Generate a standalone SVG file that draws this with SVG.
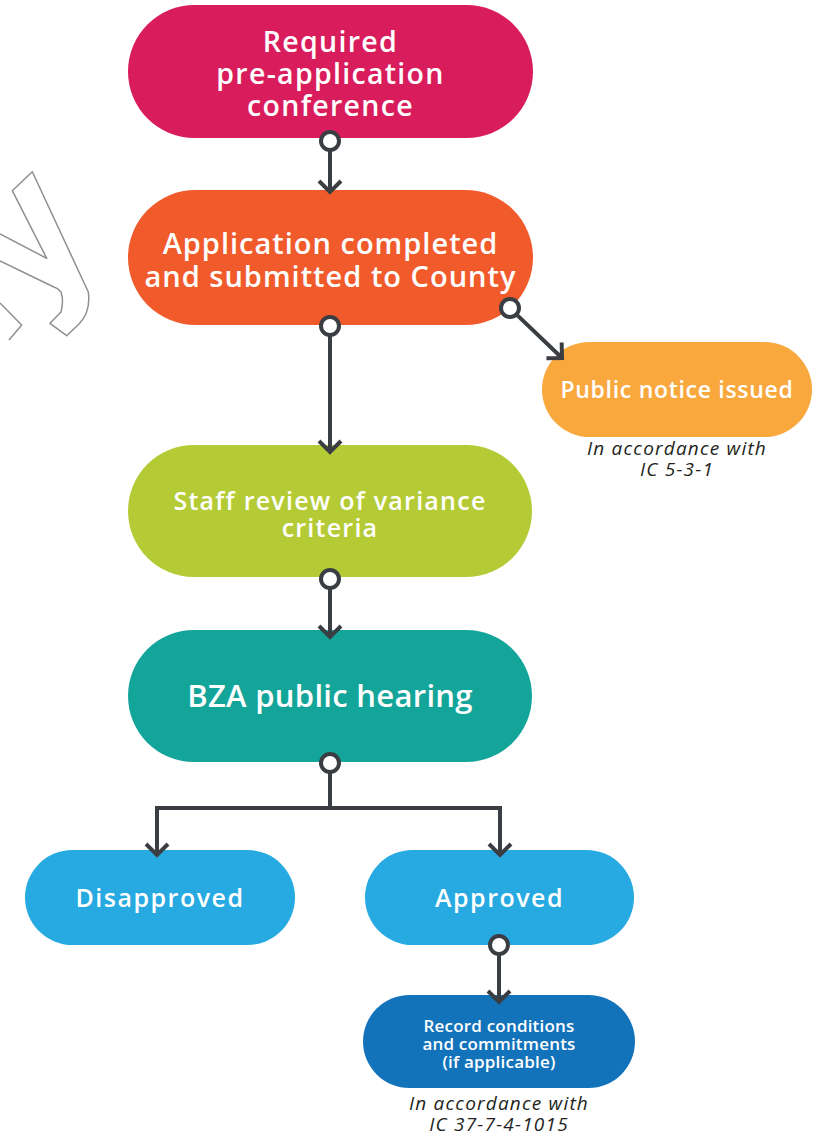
<svg xmlns="http://www.w3.org/2000/svg" width="820" height="1135" viewBox="0 0 820 1135">
  <style>
    .pill-text { font-family: "Open Sans", "Liberation Sans", sans-serif; font-weight: 600; fill: #ffffff; text-anchor: middle; }
    .note { font-family: "Open Sans", "Liberation Sans", sans-serif; font-style: italic; font-size: 19px; letter-spacing: 1.2px; fill: #231f20; text-anchor: middle; }
    .wire { fill: none; stroke: #3a3e42; stroke-width: 4; }
    .joint { fill: #ffffff; stroke: #3a3e42; stroke-width: 4; }
    .outline { fill: none; stroke: #8f8f8f; stroke-width: 1.5; stroke-linejoin: round; }
  </style>
  <defs>
    <marker id="chevron" markerUnits="userSpaceOnUse" markerWidth="1" markerHeight="1" refX="0" refY="0" orient="auto" overflow="visible">
      <path d="M-11,-11 L0,0 L-11,11" fill="none" stroke="#3a3e42" stroke-width="4"/>
    </marker>
  </defs>

  <rect width="820" height="1135" fill="#ffffff"/>

  <!-- partial outlined letterform at the left edge -->
  <g id="outline-mark">
    <path class="outline" d="M0,234 L46.7,258.3 L12.3,190.7 L32.3,171.7 Q62,235 88.3,292 Q91,312 79,324 L66.7,335.7 L50,323.3 L61,312 Q64,300 61,292 Q58,288 53.3,286.7 L0,261"/>
    <path class="outline" d="M0,303 L21.7,325 L9,340"/>
  </g>

  <g id="pre-application">
    <rect x="128" y="5" width="405" height="133" rx="66.5" fill="#d91c5c"/>
    <text class="pill-text" font-size="28.5" letter-spacing="1.3" x="330.5" y="52">Required<tspan x="330.5" dy="32">pre-application</tspan><tspan x="330.5" dy="32">conference</tspan></text>
  </g>

  <g id="application">
    <rect x="128" y="190" width="405" height="135" rx="67.5" fill="#f15a2b"/>
    <text class="pill-text" font-size="29" letter-spacing="1" x="330.5" y="254">Application completed<tspan x="330.5" dy="33">and submitted to County</tspan></text>
  </g>

  <g id="public-notice">
    <rect x="542" y="342" width="270" height="95" rx="47.5" fill="#f9a83e"/>
    <text class="pill-text" font-size="23" letter-spacing="0.7" x="677" y="398">Public notice issued</text>
    <text class="note" x="677" y="455">In accordance with<tspan x="677" dy="21">IC 5-3-1</tspan></text>
  </g>

  <g id="staff-review">
    <rect x="128" y="445" width="404" height="132" rx="66" fill="#b4cb36"/>
    <text class="pill-text" font-size="25" letter-spacing="1.25" x="330" y="510">Staff review of variance<tspan x="330" dy="27">criteria</tspan></text>
  </g>

  <g id="bza-hearing">
    <rect x="128" y="630" width="404" height="132" rx="66" fill="#14a59a"/>
    <text class="pill-text" font-size="31" letter-spacing="0.3" x="330" y="707">BZA public hearing</text>
  </g>

  <g id="disapproved">
    <rect x="25" y="850" width="270" height="95" rx="47.5" fill="#27a9e1"/>
    <text class="pill-text" font-size="25" letter-spacing="1.5" x="160" y="907">Disapproved</text>
  </g>

  <g id="approved">
    <rect x="365" y="850" width="269" height="95" rx="47.5" fill="#27a9e1"/>
    <text class="pill-text" font-size="25" letter-spacing="1.5" x="499.5" y="907">Approved</text>
  </g>

  <g id="record-conditions">
    <rect x="363" y="995" width="272" height="93" rx="46.5" fill="#1373ba"/>
    <text class="pill-text" font-size="17" letter-spacing="0.2" x="499" y="1032">Record conditions<tspan x="499" dy="18">and commitments</tspan><tspan x="499" dy="18">(if applicable)</tspan></text>
    <text class="note" x="499" y="1110">In accordance with<tspan x="499" dy="21">IC 37-7-4-1015</tspan></text>
  </g>

  <!-- connectors, drawn over the node edges -->
  <g id="connectors">
    <path class="wire" d="M330,150 V192" marker-end="url(#chevron)"/>
    <path class="wire" d="M330,335 V452" marker-end="url(#chevron)"/>
    <path class="wire" d="M516.4,314.4 L562,358" marker-end="url(#chevron)"/>
    <path class="wire" d="M330,588 V637" marker-end="url(#chevron)"/>
    <path class="wire" d="M330,772 V808 H157 V855" marker-end="url(#chevron)"/>
    <path class="wire" d="M330,808 H500 V855" marker-end="url(#chevron)"/>
    <path class="wire" d="M499,954 V1002" marker-end="url(#chevron)"/>
    <circle class="joint" cx="330" cy="141" r="9"/>
    <circle class="joint" cx="330" cy="326" r="9"/>
    <circle class="joint" cx="510" cy="308" r="9"/>
    <circle class="joint" cx="330" cy="579" r="9"/>
    <circle class="joint" cx="330" cy="763" r="9"/>
    <circle class="joint" cx="499" cy="945" r="9"/>
  </g>
</svg>
